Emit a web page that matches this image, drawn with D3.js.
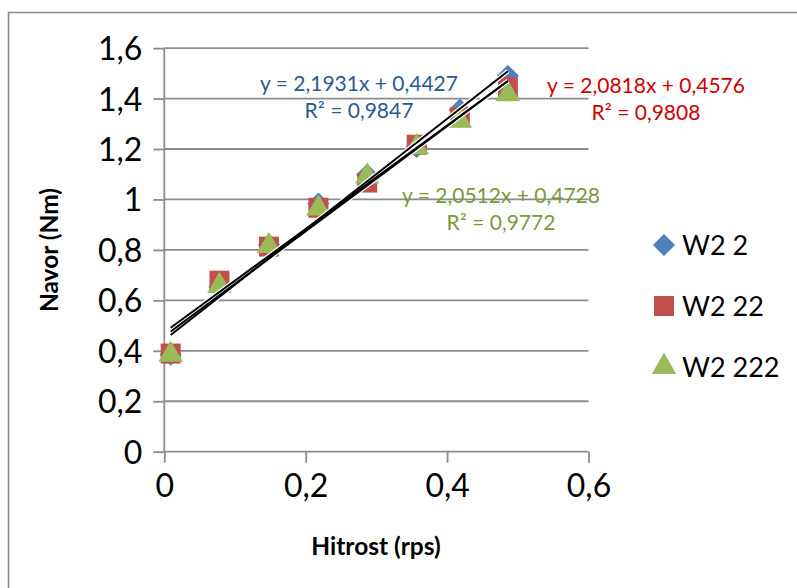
<!DOCTYPE html>
<html>
<head>
<meta charset="utf-8">
<script src="https://cdn.jsdelivr.net/npm/d3@7"></script>
<style>
  html, body { margin: 0; padding: 0; background: #fff; }
  svg { display: block; }
  text { font-family: Lato, "Open Sans", sans-serif; }
</style>
</head>
<body>
<svg id="chart" width="797" height="588"></svg>
<script>
// ---- data ----
const xValues = [0.009, 0.078, 0.148, 0.218, 0.287, 0.357, 0.418, 0.486];
const seriesNames = ["W2 2", "W2 22", "W2 222"];
const w2_2   = [0.385, 0.653, 0.82, 0.984, 1.098, 1.208, 1.356, 1.49];
const w2_22  = [0.389, 0.678, 0.813, 0.967, 1.067, 1.217, 1.326, 1.445];
const w2_222 = [0.393, 0.665, 0.824, 0.972, 1.099, 1.215, 1.32, 1.425];
const slopes = [2.1931, 2.0818, 2.0512];
const intercepts = [0.4427, 0.4576, 0.4728];
const r2Values = [0.9847, 0.9808, 0.9772];
const xTicks = [0, 0.2, 0.4, 0.6];
const yTicks = [0, 0.2, 0.4, 0.6, 0.8, 1, 1.2, 1.4, 1.6];
const xTitle = "Hitrost (rps)";
const yTitle = "Navor (Nm)";

const seriesValues = [w2_2, w2_22, w2_222];
const colors = ["#4F81BD", "#C0504D", "#9BBB59"];
const labelColors = ["#2A5A92", "#D00000", "#7A9A3A"];
const shapes = [d3.symbolSquare, d3.symbolSquare, d3.symbolTriangle];
const rotations = [45, 0, 0];
const shapeSizes = [245, 400, 260];
// label anchor positions (centre x, first baseline y)
const labelPos = [[359, 91], [646, 93], [501, 203]];

const svg = d3.select("#chart");
svg.append("rect").attr("width", 797).attr("height", 588).attr("fill", "#fff");
svg.append("rect").attr("x", 8.5).attr("y", 12.5).attr("width", 820).attr("height", 620)
  .attr("fill", "none").attr("stroke", "#868686").attr("stroke-width", 1.5);

const x = d3.scaleLinear().domain([0, 0.6]).range([164.3, 588.5]);
const y = d3.scaleLinear().domain([0, 1.6]).range([451.7, 48.1]);
const fmt = v => String(v).replace(".", ",");

// gridlines
svg.append("g").selectAll("line").data(yTicks.filter(t => t > 0)).join("line")
  .attr("x1", x(0)).attr("x2", x(0.6))
  .attr("y1", d => y(d)).attr("y2", d => y(d))
  .attr("stroke", "#8c8c8c").attr("stroke-width", 1.8);

// axes
const yAxis = svg.append("g").attr("transform", `translate(${x(0)},0)`)
  .call(d3.axisLeft(y).tickValues(yTicks).tickFormat(fmt).tickSize(11).tickPadding(11));
const xAxis = svg.append("g").attr("transform", `translate(0,${y(0)})`)
  .call(d3.axisBottom(x).tickValues(xTicks).tickFormat(fmt).tickSize(11).tickPadding(12));
[yAxis, xAxis].forEach(g => {
  g.select(".domain").attr("stroke", "#8c8c8c").attr("stroke-width", 1.8);
  g.selectAll(".tick line").attr("stroke", "#8c8c8c").attr("stroke-width", 1.8);
  g.selectAll(".tick text").attr("fill", "#000").attr("font-size", 32)
    .attr("font-family", "Lato, sans-serif");
});
yAxis.select(".domain").attr("d", `M0,${y(1.6)}V${y(0)}`);
xAxis.select(".domain").attr("d", `M${x(0)},0H${x(0.6)}`);
yAxis.selectAll(".tick text").attr("dy", "0.36em");
xAxis.selectAll(".tick text").attr("dy", "0.7em");

// markers
seriesValues.forEach((vals, si) => {
  svg.append("g").selectAll("path").data(vals).join("path")
    .attr("transform", (d, i) => `translate(${x(xValues[i])},${y(d) + (si === 2 ? 2 : 0)}) rotate(${rotations[si]})`)
    .attr("d", d3.symbol().type(shapes[si]).size(shapeSizes[si]))
    .attr("fill", colors[si]);
});

// trendlines
const xMin = d3.min(xValues), xMax = d3.max(xValues);
const trendLine = d3.line().x(d => x(d[0])).y(d => y(d[1]));
const trendPts = slopes.map((m, si) => [[xMin, m * xMin + intercepts[si]], [xMax, m * xMax + intercepts[si]]]);
trendPts.forEach(pts => svg.append("path").attr("d", trendLine(pts))
  .attr("stroke", "#fff").attr("stroke-width", 4.5).attr("fill", "none"));
trendPts.forEach(pts => svg.append("path").attr("d", trendLine(pts))
  .attr("stroke", "#000").attr("stroke-width", 2).attr("fill", "none"));

// trendline labels
slopes.forEach((m, si) => {
  const t = svg.append("text").attr("text-anchor", "middle").attr("font-size", 21)
    .attr("fill", labelColors[si]);
  t.append("tspan").attr("x", labelPos[si][0]).attr("y", labelPos[si][1])
    .text(`y = ${fmt(m)}x + ${fmt(intercepts[si])}`);
  t.append("tspan").attr("x", labelPos[si][0]).attr("y", labelPos[si][1] + 27)
    .text(`R² = ${fmt(r2Values[si])}`);
});

// axis titles
svg.append("text").attr("x", 376).attr("y", 555).attr("text-anchor", "middle")
  .attr("font-size", 24.5).attr("font-weight", "bold").text(xTitle);
svg.append("text").attr("transform", "translate(58,250) rotate(-90)").attr("text-anchor", "middle")
  .attr("font-size", 24.5).attr("font-weight", "bold").text(yTitle);

// legend
const legend = svg.append("g");
seriesNames.forEach((name, si) => {
  const cy = 245 + si * 61;
  legend.append("path").attr("transform", `translate(664,${cy}) rotate(${rotations[si]})`)
    .attr("d", d3.symbol().type(shapes[si]).size(shapeSizes[si]))
    .attr("fill", colors[si]);
  legend.append("text").attr("x", 682).attr("y", cy).attr("dy", "0.36em")
    .attr("font-size", 27).text(name);
});
</script>
</body>
</html>
